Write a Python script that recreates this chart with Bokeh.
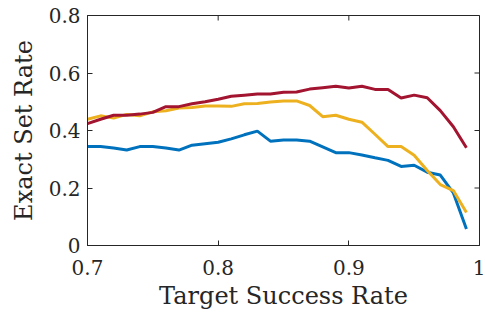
from bokeh.plotting import figure
from bokeh.models import Range1d, FixedTicker
from bokeh.embed import file_html
from bokeh.resources import INLINE

# ---- data ----
target_rate = [0.70, 0.71, 0.72, 0.73, 0.74, 0.75, 0.76, 0.77, 0.78, 0.79,
               0.80, 0.81, 0.82, 0.83, 0.84, 0.85, 0.86, 0.87, 0.88, 0.89,
               0.90, 0.91, 0.92, 0.93, 0.94, 0.95, 0.96, 0.97, 0.98, 0.99]
blue_rate = [0.344, 0.344, 0.339, 0.332, 0.344, 0.344, 0.339, 0.332, 0.349, 0.354,
             0.359, 0.371, 0.385, 0.398, 0.363, 0.367, 0.367, 0.363, 0.343, 0.323,
             0.323, 0.315, 0.305, 0.296, 0.275, 0.279, 0.255, 0.245, 0.183, 0.057]
yellow_rate = [0.439, 0.451, 0.443, 0.456, 0.451, 0.465, 0.469, 0.478, 0.480, 0.485,
               0.485, 0.484, 0.493, 0.494, 0.499, 0.503, 0.503, 0.487, 0.448, 0.453,
               0.439, 0.429, 0.387, 0.344, 0.344, 0.314, 0.261, 0.212, 0.191, 0.115]
red_rate = [0.424, 0.439, 0.453, 0.453, 0.457, 0.463, 0.483, 0.483, 0.493, 0.500,
            0.509, 0.519, 0.523, 0.527, 0.527, 0.533, 0.534, 0.544, 0.549, 0.554,
            0.548, 0.554, 0.543, 0.543, 0.513, 0.523, 0.514, 0.469, 0.413, 0.340]

x_ticks = [0.7, 0.8, 0.9, 1.0]
x_tick_labels = ["0.7", "0.8", "0.9", "1"]
y_ticks = [0.0, 0.2, 0.4, 0.6, 0.8]
y_tick_labels = ["0", "0.2", "0.4", "0.6", "0.8"]

x_label = "Target Success Rate"
y_label = "Exact Set Rate"

FONT = "DejaVu Serif"
AX = "#262626"

p = figure(width=485, height=316, output_backend="svg", toolbar_location=None,
           x_range=Range1d(x_ticks[0], x_ticks[-1]), y_range=Range1d(y_ticks[0], y_ticks[-1]),
           min_border_left=87, min_border_right=6, min_border_top=15, min_border_bottom=71)
p.grid.visible = False
p.outline_line_color = AX
p.outline_line_width = 1
p.background_fill_color = "white"
p.border_fill_color = "white"

for series, color in [(blue_rate, "#0072BD"), (yellow_rate, "#EDB120"), (red_rate, "#A2142F")]:
    p.line(target_rate, series, line_color=color, line_width=3)

# mirrored inward ticks on the top and right edges (placed at the tick values)
p.rect(x=x_ticks, y=y_ticks[-1], width=1, height=10, width_units="screen",
       height_units="screen", fill_color=AX, line_color=None)
p.rect(x=x_ticks[-1], y=y_ticks, width=10, height=1, width_units="screen",
       height_units="screen", fill_color=AX, line_color=None)

def style(ax, ticks, labels):
    ax.ticker = FixedTicker(ticks=ticks)
    ax.major_label_overrides = {t: l for t, l in zip(ticks, labels)}
    ax.minor_tick_line_color = None
    ax.major_tick_in = 5
    ax.major_tick_out = 0
    ax.major_tick_line_color = AX
    ax.axis_line_color = AX
    ax.axis_line_width = 1
    ax.major_label_text_font = FONT
    ax.major_label_text_font_size = "20px"
    ax.major_label_text_color = AX
    ax.axis_label_text_font = FONT
    ax.axis_label_text_font_size = "24px"
    ax.axis_label_text_font_style = "normal"
    ax.axis_label_text_color = AX

xa = p.xaxis[0]
style(xa, x_ticks, x_tick_labels)
xa.axis_label = x_label
xa.major_label_standoff = 14
xa.axis_label_standoff = 4

ya = p.yaxis[0]
style(ya, y_ticks, y_tick_labels)
ya.axis_label = y_label
ya.major_label_standoff = 7
ya.axis_label_standoff = 8

open("out.html", "w").write(file_html(p, INLINE))
